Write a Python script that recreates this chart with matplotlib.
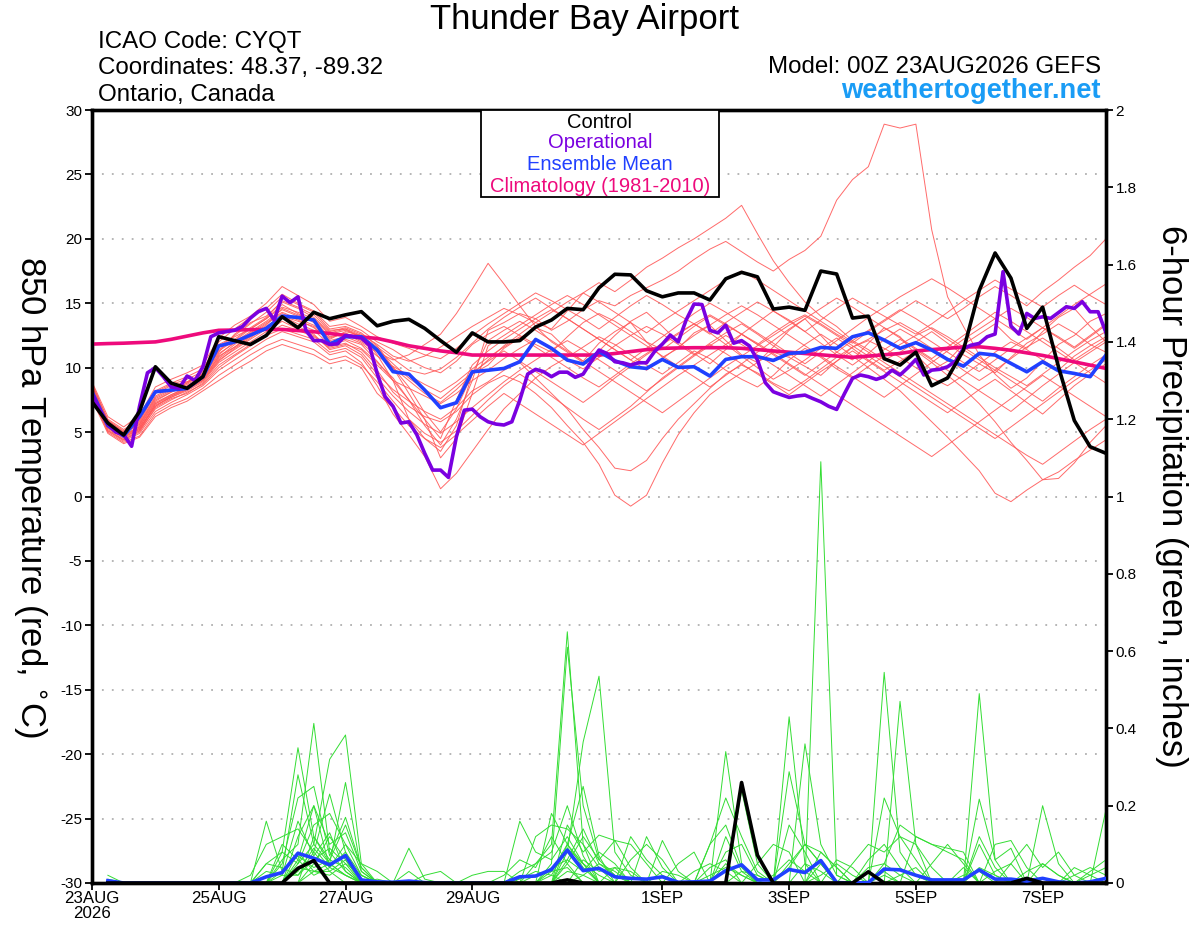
import numpy as np
import matplotlib
matplotlib.use("Agg")
import matplotlib.pyplot as plt

# ---------------- data ----------------
# 6-hourly steps (i = 0..64), days since 23AUG2026 00Z = i/4
control_t = [7.35,5.7,4.77,6.6,10.07,8.8,8.4,9.3,12.4,12.1,11.8,12.5,13.95,13.1,14.3,13.8,14.1,14.35,13.25,13.6,
             13.75,13.05,12.1,11.2,12.7,12.0,12.0,12.1,13.15,13.7,14.6,14.5,16.2,17.25,17.2,15.97,15.5,15.8,15.8,15.25,
             16.9,17.4,17.05,14.55,14.7,14.45,17.5,17.27,13.85,14.0,10.7,10.2,11.2,8.6,9.2,11.35,16.0,18.9,16.95,13.05,
             14.7,10.07,5.9,3.86,3.35]
mean_t = [8.13,5.5,4.7,6.2,8.13,8.26,8.39,9.3,11.68,12.0,12.53,13.05,14.0,13.9,13.7,11.83,12.4,12.4,11.37,9.69,
          9.5,8.26,6.89,7.28,9.68,9.8,9.94,10.46,12.19,11.5,10.59,10.28,11.24,10.54,10.07,9.94,10.64,10.02,10.07,9.35,
          10.64,10.85,10.85,10.56,11.11,11.19,11.57,11.5,12.4,12.71,12.14,11.5,11.94,11.37,10.64,10.12,11.11,10.98,10.33,9.68,
          10.46,9.76,9.55,9.3,10.98]
clim_t = [11.83,11.87,11.9,11.95,12.0,12.2,12.45,12.7,12.9,12.92,12.95,12.97,12.97,12.88,12.79,12.65,12.5,12.38,12.27,12.0,
          11.7,11.5,11.3,11.16,10.98,10.98,10.98,10.98,10.98,10.98,10.98,10.98,10.98,11.1,11.25,11.4,11.5,11.53,11.55,11.55,
          11.55,11.5,11.4,11.3,11.2,11.1,11.0,10.9,10.8,10.9,11.0,11.1,11.3,11.4,11.5,11.6,11.62,11.5,11.35,11.15,
          10.95,10.7,10.45,10.2,9.94]
# operational: 3-hourly (j = 0..128), days = j/8
oper_t = [8.0,6.7,5.6,5.0,4.8,3.9,7.0,9.6,10.0,9.3,8.5,8.4,9.35,9.0,10.07,12.4,12.7,12.8,12.9,13.2,
          13.85,14.35,14.6,13.7,15.55,15.05,15.5,12.9,12.1,12.1,11.8,11.85,12.5,12.4,12.3,11.75,9.55,7.75,7.0,5.7,
          5.8,4.8,3.35,2.05,2.05,1.48,4.64,6.7,6.78,6.19,5.8,5.62,5.55,5.8,7.48,9.5,9.87,9.69,9.3,9.65,
          9.65,9.25,9.5,10.46,11.37,11.1,10.46,10.38,10.2,10.38,10.38,11.24,11.83,12.53,12.0,13.7,14.94,14.9,12.9,12.7,
          13.3,11.9,12.1,11.68,10.6,8.83,8.13,7.9,7.69,7.8,7.87,7.6,7.35,7.0,6.76,8.0,9.17,9.43,9.3,9.09,
          9.3,9.81,9.43,10.0,10.64,9.43,9.81,9.87,10.07,10.5,11.5,11.75,11.88,12.4,12.61,17.45,13.23,12.61,14.21,13.82,
          13.95,13.82,14.27,14.73,14.6,15.12,14.34,14.34,12.71]

members_t = [
 [8.8,5.9,5.0,5.8,8.0,8.6,8.9,9.5,11.8,12.4,13.0,13.8,14.9,14.2,13.5,12.2,12.8,12.5,11.0,9.0,6.0,4.5,3.5,5.5,9.5,10.2,11.5,12.3,13.1,12.6,11.4,10.5,11.9,12.8,13.5,12.0,10.8,11.5,12.7,13.3,12.1,11.0,10.4,11.6,12.9,13.8,12.5,11.2,10.6,11.9,13.1,12.4,11.0,9.8,10.5,11.8,12.6,13.4,12.2,11.5,12.8,13.9,14.6,13.2,12.0],
 [8.2,5.4,4.6,5.2,7.2,7.9,8.4,9.1,10.9,11.6,12.4,13.1,14.0,13.6,13.2,12.0,12.2,11.8,10.5,9.0,7.5,5.5,4.0,6.0,9.0,12.9,13.5,14.2,13.8,12.9,13.6,14.5,15.2,14.8,15.6,16.2,16.8,17.5,18.4,19.2,19.8,19.0,18.2,17.5,18.4,19.1,20.2,23.0,24.6,25.6,28.9,28.6,28.9,20.7,15.5,13.2,11.0,9.5,8.4,9.2,10.5,11.8,12.5,13.6,14.2],
 [8.0,5.6,4.9,5.6,7.6,8.2,8.8,9.6,11.2,12.6,13.5,14.0,15.1,14.6,13.9,12.8,13.1,12.6,11.8,10.9,10.5,10.9,11.6,12.4,13.2,13.9,14.6,14.1,13.5,13.0,14.4,15.8,16.6,15.9,16.8,17.8,18.5,19.3,20.0,20.8,21.6,22.6,20.4,18.3,16.6,15.1,14.0,13.2,12.1,11.4,10.6,11.2,12.0,12.8,11.9,11.0,10.3,9.6,10.8,11.9,12.6,13.4,12.7,11.8,11.2],
 [7.9,5.2,4.4,5.0,6.9,7.6,8.0,8.8,10.2,11.0,11.8,12.6,13.3,12.9,12.4,11.6,11.9,11.2,9.8,8.1,7.0,6.2,5.8,6.6,7.9,8.8,9.4,8.9,8.0,6.9,5.5,4.2,2.5,0.1,-0.75,0.1,2.6,4.8,6.5,7.9,8.8,9.6,10.4,11.2,10.8,10.1,9.4,10.5,11.6,12.1,11.5,10.8,10.0,9.2,8.6,9.4,10.3,11.2,12.0,11.4,10.6,9.8,10.9,11.7,12.4],
 [8.6,5.7,4.7,5.3,7.0,7.8,8.3,9.0,10.6,11.4,12.2,13.0,13.9,13.2,12.6,11.4,11.7,11.0,9.5,8.3,7.4,6.6,6.0,6.9,8.2,8.9,9.8,10.4,9.2,8.0,6.8,5.2,3.8,2.2,2.0,2.8,4.5,6.0,7.2,8.4,9.5,10.2,9.6,8.8,8.2,9.0,9.9,10.8,11.6,12.2,12.9,13.5,12.8,12.0,11.2,10.4,9.7,10.6,11.5,12.3,13.1,12.4,11.6,12.5,13.4],
 [7.6,5.1,4.3,4.9,6.6,7.3,7.9,8.6,9.8,10.6,11.4,12.2,12.8,12.4,12.0,11.0,11.3,10.4,8.6,6.4,4.8,3.1,0.6,1.8,3.5,5.2,6.8,8.0,9.2,10.1,10.8,11.6,12.4,11.8,11.0,10.2,9.5,10.4,11.3,10.7,9.8,9.1,8.5,9.4,10.6,11.5,10.8,9.9,9.2,10.1,10.9,11.8,12.5,13.1,12.4,11.6,10.8,10.0,9.3,8.6,9.5,10.4,11.3,12.1,12.8],
 [8.3,5.5,4.8,5.4,7.4,8.1,8.6,9.3,11.0,12.0,12.8,13.6,14.5,14.0,13.6,12.4,12.6,12.0,11.2,10.6,11.0,11.8,12.6,14.2,16.1,18.1,16.5,14.8,13.2,12.0,11.2,10.4,11.3,12.5,13.6,14.3,13.2,12.0,11.1,10.3,11.4,12.6,13.5,14.4,13.7,12.8,11.9,11.0,10.2,11.1,12.2,13.0,12.3,11.5,10.7,9.8,9.0,9.8,10.7,11.6,12.3,11.5,10.6,11.4,12.2],
 [8.7,6.0,5.2,6.0,8.2,8.8,9.3,9.9,12.0,13.0,13.9,14.6,15.7,15.0,14.4,13.2,13.4,12.9,12.0,11.4,10.6,10.0,9.6,10.5,11.8,12.6,13.2,12.5,11.8,11.2,12.4,13.5,14.2,13.6,12.8,12.0,11.4,12.3,13.2,14.0,13.3,12.6,11.8,12.7,13.5,14.1,13.4,12.6,11.9,12.8,13.6,14.4,15.2,14.5,13.8,14.6,15.5,16.3,15.6,14.8,15.9,16.8,17.8,18.7,20.0],
 [8.1,5.3,4.5,5.1,7.1,7.7,8.2,8.9,10.4,11.2,12.0,12.8,13.6,13.0,12.5,11.5,11.8,11.4,10.2,9.0,8.4,7.8,7.2,8.0,9.0,9.8,10.7,11.5,12.2,11.4,10.6,9.9,10.8,11.7,12.5,13.2,12.6,11.8,11.0,11.9,12.7,13.4,12.6,11.7,10.9,11.8,12.6,11.8,10.9,10.0,9.1,8.2,7.0,5.8,4.6,3.3,2.0,0.25,-0.4,0.5,1.3,1.4,2.6,4.2,5.5],
 [8.4,5.6,4.7,5.4,7.3,7.9,8.5,9.2,10.8,11.8,12.6,13.4,14.2,13.7,13.1,12.1,12.4,11.9,10.9,10.1,9.4,8.7,8.1,8.9,9.9,10.8,11.6,12.4,11.6,10.8,10.0,9.2,8.5,9.4,10.3,11.1,11.9,12.7,13.4,12.7,11.8,10.9,10.0,9.1,9.8,10.6,11.5,12.3,11.5,10.6,9.8,10.5,11.3,10.4,9.4,8.4,7.2,5.8,4.2,2.8,1.3,1.9,2.8,3.6,4.4],
 [7.8,5.0,4.2,4.7,6.4,7.1,7.6,8.4,9.4,10.2,11.0,11.7,12.2,11.8,11.4,10.6,10.9,10.2,8.9,7.4,6.0,4.9,4.2,5.1,6.3,7.5,8.6,9.5,8.7,7.8,6.9,6.0,5.2,6.1,7.0,8.1,9.2,10.1,11.0,11.8,11.1,10.3,9.5,8.7,7.9,8.8,9.7,10.5,11.3,10.5,9.7,8.9,8.1,7.3,6.5,7.4,8.3,9.1,8.2,7.3,6.4,7.5,8.6,9.5,10.3],
 [8.9,6.2,5.4,6.3,8.5,9.1,9.6,10.2,12.3,13.3,14.0,15.0,16.3,15.6,14.9,13.6,13.9,13.2,12.4,11.9,11.5,11.0,10.7,11.5,12.5,13.4,14.2,15.0,15.8,15.2,14.5,13.8,13.0,13.9,14.8,15.6,14.9,14.1,13.4,12.6,13.5,14.3,15.1,14.4,13.6,12.8,13.7,14.6,15.4,14.7,14.0,13.3,12.6,13.4,14.3,15.2,16.0,16.8,16.1,15.4,14.7,15.6,16.4,15.6,14.9],
 [7.7,5.1,4.4,5.1,6.8,7.5,8.1,8.7,10.0,10.9,11.7,12.5,13.0,12.6,12.2,11.2,11.5,10.8,9.2,7.8,6.6,5.6,4.9,5.8,6.9,7.9,8.9,9.8,10.6,11.4,12.1,11.4,10.6,9.8,9.0,8.2,9.1,10.0,10.9,11.7,12.5,11.8,11.0,10.2,9.4,8.6,7.8,8.7,9.6,10.5,11.4,12.2,11.4,10.6,9.8,9.0,8.2,7.4,6.6,7.6,8.6,9.5,10.4,11.2,12.0],
 [8.5,5.8,5.0,5.7,7.8,8.4,8.9,9.5,11.4,12.2,13.1,13.9,15.2,14.7,14.1,12.9,13.0,12.3,11.5,10.3,9.2,8.3,7.6,8.6,9.6,10.5,11.3,10.5,9.7,8.9,8.1,7.3,8.2,9.2,10.1,11.0,11.8,12.6,13.4,14.1,13.4,12.6,11.8,11.0,10.2,9.4,10.3,11.2,12.1,12.9,13.7,14.5,13.8,13.0,12.2,11.4,10.6,9.8,9.0,8.2,7.4,8.4,9.3,10.2,11.0],
 [8.0,5.3,4.6,5.3,7.0,7.7,8.3,9.0,10.5,11.5,12.3,13.2,14.0,13.4,12.9,11.8,12.1,11.5,10.4,9.2,7.5,6.0,4.5,7.5,10.2,11.3,12.2,13.0,13.8,14.5,13.8,13.0,12.2,11.4,10.6,9.8,10.7,11.6,12.5,13.3,14.1,14.8,14.1,13.3,12.5,11.7,10.9,10.1,9.3,8.5,7.7,8.6,9.5,10.4,11.3,12.2,13.0,13.8,14.6,13.9,13.1,12.3,11.5,12.4,13.3],
 [8.3,5.5,4.7,5.5,7.5,8.1,8.7,9.4,11.1,11.9,12.7,13.5,14.3,13.8,13.3,12.3,12.7,12.1,11.4,10.0,8.5,6.5,5.0,6.8,9.5,12.1,12.9,13.6,12.9,12.1,11.3,10.5,9.7,8.9,8.1,7.3,6.5,7.4,8.3,9.2,10.1,10.9,11.7,12.5,13.3,14.0,13.3,12.5,11.7,10.9,10.1,9.3,8.5,7.7,6.9,6.1,5.3,4.5,5.4,6.3,7.2,8.1,9.0,9.8,10.6],
 [8.6,5.9,5.1,5.9,8.1,8.7,9.1,9.7,11.6,12.5,13.4,14.3,15.5,14.9,14.3,13.0,13.2,12.7,11.7,10.0,8.0,6.0,3.0,4.5,8.0,11.7,12.5,13.3,14.1,14.9,15.6,14.9,14.1,13.3,12.5,11.7,10.9,10.1,9.3,8.5,9.4,10.3,11.2,12.1,13.0,13.8,14.6,15.4,14.7,13.9,13.1,12.3,11.5,10.7,11.6,12.5,13.4,14.3,13.6,12.8,12.0,11.2,10.4,9.6,8.8],
 [7.5,4.9,4.1,4.6,6.2,6.9,7.4,8.2,9.0,9.8,10.5,11.3,11.8,11.4,11.0,10.3,10.6,10.0,8.0,6.9,5.5,4.5,3.8,4.8,5.9,7.0,8.0,7.2,6.4,5.6,4.8,4.0,4.9,5.8,6.7,7.6,8.5,9.4,10.2,11.0,11.8,12.6,11.9,11.1,10.3,9.5,8.7,7.9,7.1,6.3,5.5,4.7,3.9,3.1,4.0,4.9,5.8,6.7,7.6,8.5,9.4,8.6,7.8,7.0,6.2],
 [8.2,5.4,4.6,5.2,7.2,7.8,8.4,9.1,10.7,11.6,12.5,13.3,14.6,14.1,13.7,12.6,12.9,12.4,11.3,10.0,9.0,8.0,7.3,8.3,9.5,10.6,11.7,12.6,13.5,14.3,15.1,15.8,15.1,14.3,13.5,12.7,13.6,14.4,15.2,16.0,16.8,17.5,16.8,16.0,15.2,14.4,13.6,12.8,12.0,11.2,10.4,9.6,8.8,8.0,7.2,6.4,5.6,4.8,4.0,3.2,2.5,3.4,4.3,5.2,6.0],
 [8.4,5.7,4.9,5.6,7.7,8.3,8.8,9.5,11.3,12.1,13.0,13.8,14.7,14.3,13.8,12.7,13.0,12.5,11.6,10.7,9.8,9.5,9.9,10.8,11.9,13.0,13.9,14.7,15.4,14.6,13.8,13.0,12.2,11.4,10.6,11.5,12.4,13.3,14.2,15.0,14.3,13.5,12.7,11.9,11.1,10.3,11.2,12.1,13.0,13.9,14.7,15.5,16.2,16.9,16.2,15.4,14.6,13.8,13.0,12.2,13.1,14.0,14.9,15.7,16.5],
]

# 6-hour precipitation (inches), steps i = 1..64; dict {step: value}, other steps 0
control_p = {13: 0.038, 14: 0.058, 30: 0.008, 41: 0.26, 42: 0.072, 49: 0.029, 59: 0.012}
mean_p = {1: 0.006, 11: 0.016, 12: 0.027, 13: 0.077, 14: 0.064, 15: 0.047, 16: 0.071, 17: 0.008, 18: 0.003,
          19: 0.002, 20: 0.005, 21: 0.001, 27: 0.016, 28: 0.018, 29: 0.035, 30: 0.085, 31: 0.032, 32: 0.038,
          33: 0.016, 34: 0.012, 35: 0.01, 36: 0.016, 37: 0.002, 38: 0.003, 39: 0.005, 40: 0.032, 41: 0.047,
          42: 0.008, 43: 0.008, 44: 0.035, 45: 0.027, 46: 0.058, 47: 0.001, 49: 0.001, 50: 0.036, 51: 0.034,
          52: 0.02, 53: 0.008, 54: 0.008, 55: 0.008, 56: 0.034, 57: 0.01, 58: 0.01, 59: 0.005, 60: 0.012,
          61: 0.003, 63: 0.003, 64: 0.012}
members_p = [
 {1:0.02, 11:0.05, 12:0.08, 13:0.35, 14:0.12, 15:0.05, 16:0.02, 27:0.03, 28:0.05, 29:0.1, 30:0.65, 31:0.1, 32:0.04, 40:0.05, 41:0.02, 46:0.05, 50:0.02},
 {12:0.06, 13:0.1, 14:0.413, 15:0.08, 16:0.03, 20:0.09, 21:0.01, 29:0.05, 30:0.61, 31:0.2, 32:0.06, 33:0.02, 44:0.43, 45:0.05, 56:0.1, 57:0.02},
 {13:0.05, 14:0.1, 15:0.32, 16:0.383, 17:0.05, 30:0.08, 31:0.365, 32:0.535, 33:0.08, 34:0.02, 45:0.36, 46:0.1, 47:0.02, 60:0.2, 61:0.05},
 {11:0.16, 12:0.03, 13:0.28, 14:0.1, 15:0.05, 16:0.26, 17:0.03, 27:0.16, 28:0.08, 29:0.06, 30:0.12, 31:0.05, 46:1.09, 47:0.02, 55:0.04},
 {12:0.05, 13:0.22, 14:0.25, 15:0.07, 16:0.17, 17:0.04, 29:0.18, 30:0.1, 31:0.05, 40:0.34, 41:0.05, 50:0.545, 51:0.08, 52:0.02},
 {10:0.02, 11:0.1, 12:0.12, 13:0.14, 14:0.08, 15:0.23, 16:0.08, 30:0.15, 31:0.08, 32:0.124, 33:0.11, 34:0.1, 35:0.05, 51:0.47, 52:0.1, 53:0.04},
 {13:0.12, 14:0.2, 15:0.1, 16:0.13, 17:0.03, 24:0.02, 25:0.03, 26:0.03, 28:0.12, 29:0.15, 30:0.14, 31:0.1, 41:0.24, 42:0.05, 56:0.49, 57:0.06},
 {12:0.08, 13:0.05, 14:0.15, 15:0.18, 16:0.1, 17:0.02, 31:0.06, 32:0.03, 33:0.04, 36:0.11, 37:0.03, 44:0.288, 45:0.1, 46:0.05, 52:0.12, 53:0.1, 54:0.08, 55:0.06},
 {14:0.05, 15:0.12, 16:0.06, 18:0.01, 28:0.05, 29:0.08, 30:0.2, 31:0.07, 39:0.1, 40:0.22, 41:0.12, 42:0.03, 50:0.22, 51:0.12, 52:0.06, 57:0.1, 58:0.11, 59:0.04},
 {11:0.05, 12:0.04, 13:0.02, 14:0.06, 15:0.09, 16:0.05, 17:0.02, 21:0.02, 22:0.03, 30:0.05, 31:0.12, 32:0.06, 33:0.11, 34:0.04, 46:0.08, 47:0.04, 56:0.217, 57:0.06, 58:0.09, 64:0.19},
 {13:0.08, 14:0.03, 15:0.02, 16:0.05, 20:0.03, 29:0.03, 30:0.1, 31:0.04, 34:0.12, 35:0.06, 36:0.02, 39:0.1, 40:0.15, 41:0.04, 44:0.15, 45:0.08, 48:0.05, 49:0.1, 50:0.08, 51:0.12, 52:0.1},
 {12:0.1, 13:0.06, 14:0.2, 15:0.04, 16:0.1, 17:0.05, 18:0.03, 30:0.06, 31:0.14, 32:0.05, 33:0.02, 35:0.12, 36:0.04, 42:0.05, 43:0.1, 44:0.08, 60:0.05, 61:0.02, 63:0.03, 64:0.06},
 {14:0.12, 15:0.06, 16:0.15, 17:0.04, 26:0.02, 27:0.06, 28:0.04, 29:0.12, 30:0.05, 37:0.05, 38:0.08, 40:0.12, 41:0.03, 45:0.05, 46:0.03, 50:0.05, 51:0.15, 52:0.12, 53:0.1, 54:0.09, 55:0.08},
 {11:0.03, 12:0.02, 13:0.16, 14:0.07, 15:0.13, 16:0.03, 30:0.1, 31:0.25, 32:0.07, 44:0.05, 45:0.1, 46:0.08, 47:0.04, 58:0.05, 59:0.1, 60:0.04, 61:0.08, 62:0.02},
 {13:0.03, 14:0.09, 15:0.04, 16:0.08, 17:0.02, 29:0.04, 30:0.06, 31:0.03, 32:0.08, 33:0.05, 40:0.08, 41:0.1, 42:0.02, 49:0.06, 50:0.1, 51:0.04, 56:0.12, 57:0.04, 63:0.02, 64:0.04},
 {12:0.03, 13:0.07, 14:0.04, 15:0.06, 16:0.04, 28:0.02, 29:0.03, 30:0.04, 34:0.06, 35:0.1, 36:0.06, 39:0.04, 40:0.06, 47:0.06, 48:0.04, 53:0.05, 54:0.1, 55:0.05},
 {14:0.03, 15:0.05, 16:0.02, 31:0.02, 32:0.05, 33:0.03, 41:0.03, 42:0.02, 44:0.04, 45:0.1, 46:0.05, 51:0.02, 52:0.04, 57:0.03, 58:0.05, 62:0.02, 63:0.04, 64:0.02},
 {1:0.01, 13:0.04, 14:0.03, 15:0.03, 16:0.06, 17:0.01, 30:0.03, 31:0.02, 36:0.03, 37:0.02, 43:0.02, 44:0.06, 45:0.03, 50:0.03, 56:0.04, 57:0.02},
 {12:0.02, 13:0.02, 14:0.08, 15:0.03, 29:0.02, 30:0.09, 31:0.05, 32:0.02, 39:0.02, 40:0.04, 41:0.02, 46:0.02, 47:0.05, 48:0.02, 59:0.03, 60:0.05, 61:0.02},
 {13:0.06, 14:0.02, 15:0.04, 16:0.02, 27:0.01, 28:0.03, 29:0.02, 33:0.04, 34:0.03, 38:0.03, 39:0.05, 40:0.03, 49:0.04, 50:0.05, 51:0.02, 55:0.02, 56:0.03, 62:0.04, 63:0.02},
]

# x ticks: days since 23AUG 00Z (1SEP = day 9)
xtick_days = [0, 2, 4, 6, 9, 11, 13, 15]
xtick_labels = ["23AUG\n2026", "25AUG", "27AUG", "29AUG", "1SEP", "3SEP", "5SEP", "7SEP"]
ytick_left = list(range(-30, 31, 5))
ytick_right = [0, 0.2, 0.4, 0.6, 0.8, 1.0, 1.2, 1.4, 1.6, 1.8, 2.0]
ytick_right_labels = ["0", "0.2", "0.4", "0.6", "0.8", "1", "1.2", "1.4", "1.6", "1.8", "2"]

# ---------------- checks ----------------
lens = [len(m) for m in members_t]
assert all(l == 65 for l in lens), "member lengths %s" % lens
assert len(control_t) == 65 and len(mean_t) == 65 and len(clim_t) == 65
assert len(oper_t) == 129

# ---------------- plot ----------------
plt.rcParams['font.family'] = ['Liberation Sans', 'DejaVu Sans']
W, H = 1200, 927
fig = plt.figure(figsize=(W / 100, H / 100), dpi=100)
L, R, T, B = 92, 1106, 110, 883
ax = fig.add_axes([L / W, 1 - B / H, (R - L) / W, (B - T) / H])
ax2 = ax.twinx()

t6 = np.arange(65) / 4.0
t3 = np.arange(129) / 8.0
tp = np.arange(1, 65) / 4.0

def full(d):
    return np.array([d.get(i, 0.0) for i in range(1, 65)])

RED = '#ff5a5a'
GREEN = '#33dd33'
for m in members_t:
    ax.plot(t6, m, color=RED, lw=0.7, alpha=0.9, zorder=2)

for y in range(-25, 30, 5):
    ax.axhline(y, color='#b0b0b0', lw=1.3, ls=(0, (1, 4.5)), zorder=1)

ax.plot(t6, clim_t, color='#ee0a7c', lw=2.6, zorder=5)
ax.plot(t6, mean_t, color='#2040ff', lw=2.6, zorder=6)
ax.plot(t3, oper_t, color='#7a00e0', lw=2.6, zorder=7)
ax.plot(t6, control_t, color='black', lw=2.6, zorder=8)

for d in members_p:
    ax2.plot(tp, full(d), color=GREEN, lw=0.7, zorder=2)
ax2.plot(tp, full(mean_p), color='#2040ff', lw=2.6, zorder=6)
ax2.plot(tp, full(control_p), color='black', lw=2.6, zorder=7)

ax.set_xlim(0, 16)
ax.set_ylim(-30, 30)
ax2.set_ylim(0, 2)

ax.set_xticks(xtick_days)
ax.set_xticklabels(xtick_labels, fontsize=12.2, linespacing=1.0)
ax.set_yticks(ytick_left)
ax.set_yticklabels([str(v) for v in ytick_left], fontsize=11)
ax2.set_yticks(ytick_right)
ax2.set_yticklabels(ytick_right_labels, fontsize=11)

ax.tick_params(axis='x', length=5, width=1.3, pad=1)
ax.tick_params(axis='y', length=5, width=1.3, pad=2)
ax2.tick_params(axis='y', length=5, width=1.3, pad=2)
for a in (ax, ax2):
    for s in a.spines.values():
        s.set_linewidth(2.4)

ax.set_ylabel("850 hPa Temperature (red, $^{\\circ}$C)", fontsize=25, rotation=270, va='center')
ax.yaxis.set_label_coords(-0.061, 0.5)
ax2.set_ylabel("6-hour Precipitation (green, inches)", fontsize=25, rotation=270, va='center')
ax2.yaxis.set_label_coords(1.065, 0.5)

fig.text(585 / W, 1 - 19 / H, "Thunder Bay Airport", ha='center', va='center', fontsize=25)
fig.text(98 / W, 1 - 42 / H, "ICAO Code: CYQT", ha='left', va='center', fontsize=17.4)
fig.text(98 / W, 1 - 68 / H, "Coordinates: 48.37, -89.32", ha='left', va='center', fontsize=17.4)
fig.text(98 / W, 1 - 95 / H, "Ontario, Canada", ha='left', va='center', fontsize=17.4)
fig.text(1101 / W, 1 - 67 / H, "Model: 00Z 23AUG2026 GEFS", ha='right', va='center', fontsize=17.4)
fig.text(1101 / W, 1 - 91 / H, "weathertogether.net", ha='right', va='center', fontsize=19.6,
         fontweight='bold', color='#1a9cf5')

# legend box
lx0, lx1, ly0, ly1 = 481, 719, 110, 197
box = plt.Rectangle((lx0 / W, 1 - ly1 / H), (lx1 - lx0) / W, (ly1 - ly0) / H,
                    transform=fig.transFigure, facecolor='white', edgecolor='black', lw=1.3, zorder=20)
fig.add_artist(box)
for txt, col, yy in [("Control", 'black', 122), ("Operational", '#7a00e0', 143),
                     ("Ensemble Mean", '#2040ff', 164), ("Climatology (1981-2010)", '#ee0a7c', 186)]:
    fig.text(600 / W, 1 - yy / H, txt, ha='center', va='center', fontsize=14.5, color=col, zorder=21)

fig.savefig("out.png", dpi=100)
